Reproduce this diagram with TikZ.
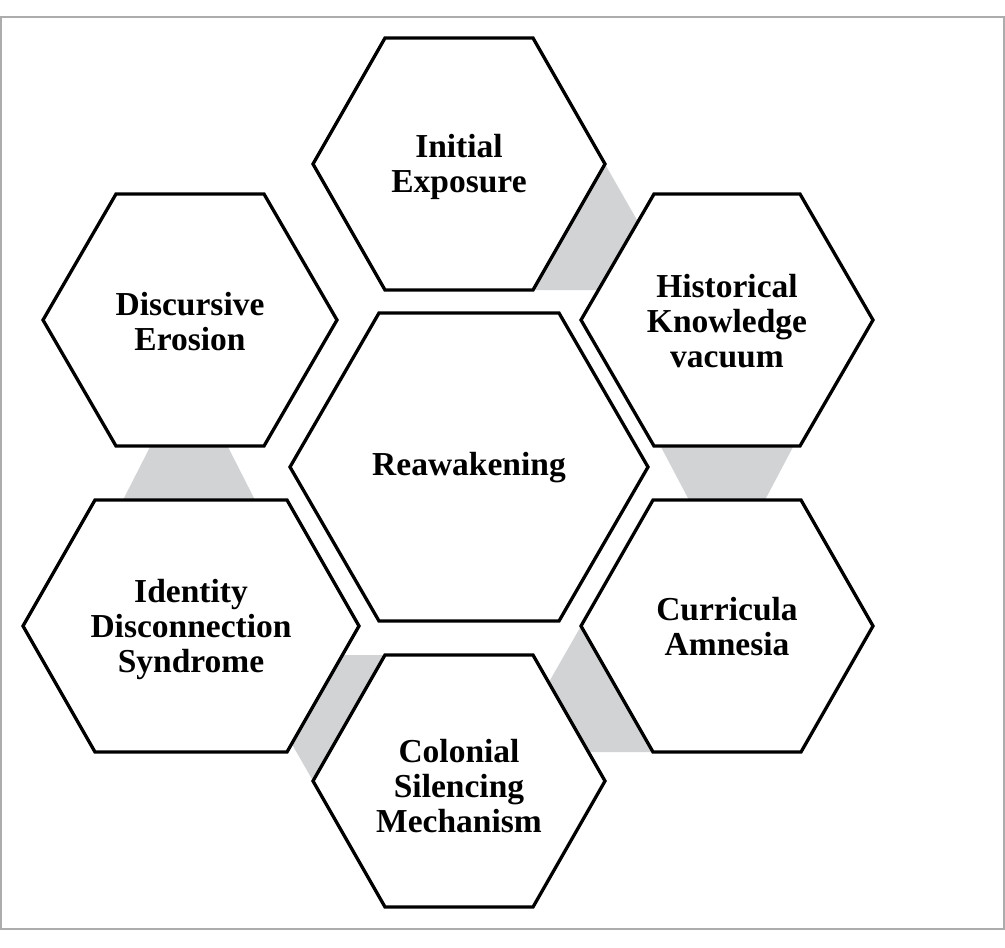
\documentclass[tikz,border=0pt]{standalone}
\usepackage{fontspec}
\setmainfont{Liberation Serif}
\begin{document}
\begin{tikzpicture}[x=1pt,y=-1pt,
  hexline/.style={draw=black,line width=3.3pt,fill=white,line join=miter},
  link/.style={fill=linkgray,draw=none},
  frameline/.style={draw=gray!65,line width=1.5pt},
  lbl/.style={align=center,font=\fontsize{33.5}{35}\selectfont\bfseries,inner sep=0pt}]
\definecolor{linkgray}{RGB}{209,211,212}
\useasboundingbox (0,0) rectangle (1005,948);
\draw[frameline] (1,17) rectangle (1004,929);
% hexagon macro: center x, center y, R, half top width, half height
\newcommand{\hexdraw}[5]{%
  \draw[hexline] ({#1-#3},#2) -- ({#1-#4},{#2-#5}) -- ({#1+#4},{#2-#5}) --
    ({#1+#3},#2) -- ({#1+#4},{#2+#5}) -- ({#1-#4},{#2+#5}) -- cycle;}
% connecting gray bands
\fill[link] (605,164) -- (637.5,221) -- (598,290) -- (533,290) -- cycle;
\fill[link] (661,447) -- (793,447) -- (765,500) -- (689,500) -- cycle;
\fill[link] (581,626) -- (548.7,682.5) -- (588.4,752) -- (653,752) -- cycle;
\fill[link] (385,655) -- (342.4,655) -- (291.7,743.7) -- (313,781) -- cycle;
\fill[link] (150,447) -- (228,447) -- (255,500) -- (123,500) -- cycle;
% hexagons
\hexdraw{459}{164}{146}{74}{126}
\hexdraw{727}{320}{146}{73}{126}
\hexdraw{727}{626}{146}{74}{126}
\hexdraw{459}{781}{146}{74}{126}
\hexdraw{191}{626}{168}{96}{126}
\hexdraw{190}{320}{147}{74}{126}
\hexdraw{469}{467}{179}{90}{154}
% labels
\node[lbl] (init) at (459,167) {Initial\\Exposure};
\node[lbl] (hist) at (727,321) {Historical\\Knowledge\\vacuum};
\node[lbl] (curr) at (727,627) {Curricula\\Amnesia};
\node[lbl] (colo) at (459,786) {Colonial\\Silencing\\Mechanism};
\node[lbl] (iden) at (191,629) {Identity\\Disconnection\\Syndrome};
\node[lbl] (disc) at (190,322) {Discursive\\Erosion};
\node[lbl] (reaw) at (469,468) {Reawakening};
\end{tikzpicture}
\end{document}
